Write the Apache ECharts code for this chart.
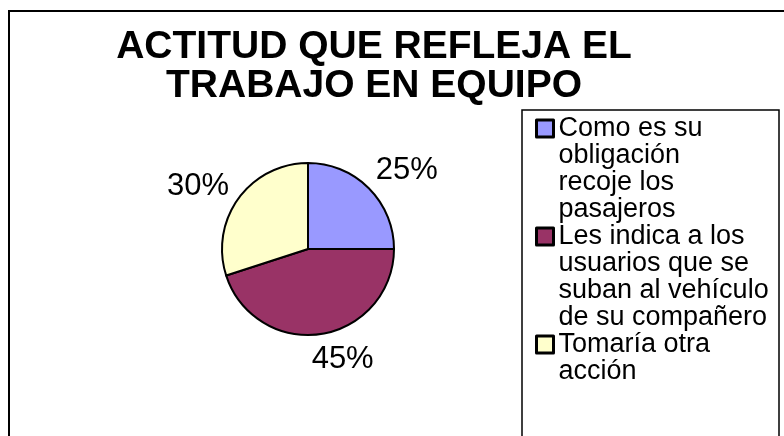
<!DOCTYPE html>
<html>
<head>
<meta charset="utf-8">
<script src="https://cdn.jsdelivr.net/npm/echarts@6/dist/echarts.min.js"></script>
<style>
    html, body { margin: 0; padding: 0; background: #fff; }
    #main { width: 784px; height: 436px; }
</style>
</head>
<body>
<div id="main"></div>
<script>
'use strict';

var titleText = 'ACTITUD QUE REFLEJA EL\nTRABAJO EN EQUIPO';
// categories, wrapped the way the legend shows them
var categories = [
    'Como es su\nobligación\nrecoje los\npasajeros',
    'Les indica a los\nusuarios que se\nsuban al vehículo\nde su compañero',
    'Tomaría otra\nacción'
];
var percents = [25, 45, 30];
var colors = ['#9999FF', '#993366', '#FFFFCC'];

var legendLineHeight = 27;
var legendBlockLines = 7;
// small nudges so the percent labels sit where the original put them
var labelNudge = [[-8, -8], [-17, 12], [7, -4]];

function drawChart() {
    var myChart = echarts.init(document.getElementById('main'));

    var pieData = categories.map(function(name, i) {
        return { name: name, value: percents[i], itemStyle: { color: colors[i] } };
    });

    var option = {
        backgroundColor: '#fff',
        animation: false,
        textStyle: { fontFamily: 'Liberation Sans, Arial, sans-serif' },
        title: {
            text: titleText,
            left: 369,
            top: 23,
            textAlign: 'center',
            textStyle: {
                fontSize: 39,
                fontWeight: 'bold',
                lineHeight: 39,
                color: '#000',
                fontFamily: 'Liberation Sans, Arial, sans-serif'
            }
        },
        graphic: [{
            // outer chart frame
            type: 'rect',
            shape: { x: 9, y: 11, width: 790, height: 440 },
            style: { fill: 'none', stroke: '#000', lineWidth: 2 },
            silent: true
        }, {
            // legend frame
            type: 'rect',
            shape: { x: 522, y: 110, width: 257, height: 340 },
            style: { fill: '#fff', stroke: '#000', lineWidth: 1.5 },
            silent: true,
            z: -1
        }],
        legend: {
            orient: 'vertical',
            left: 530,
            top: 29,
            height: 900,
            itemWidth: 17,
            itemHeight: 17,
            itemGap: -(legendBlockLines - 4) * legendLineHeight,
            icon: 'rect',
            itemStyle: { borderColor: '#000', borderWidth: 3 },
            data: categories,
            // pad each entry to the same block, first line level with the icon
            formatter: function(name) {
                var lines = name.split('\n');
                var above = (legendBlockLines - 1) / 2;
                var out = [];
                var i;
                for (i = 0; i < above; i++) out.push(' ');
                out = out.concat(lines);
                while (out.length < legendBlockLines) out.push(' ');
                return out.join('\n');
            },
            textStyle: {
                fontSize: 27,
                lineHeight: legendLineHeight,
                color: '#000',
                fontFamily: 'Liberation Sans, Arial, sans-serif'
            },
            selectedMode: false
        },
        series: [{
            type: 'pie',
            center: [308, 249],
            radius: 86,
            startAngle: 90,
            clockwise: true,
            avoidLabelOverlap: false,
            itemStyle: { borderColor: '#000', borderWidth: 2 },
            label: {
                show: true,
                position: 'outside',
                formatter: '{c}%',
                fontSize: 31,
                color: '#000',
                fontFamily: 'Liberation Sans, Arial, sans-serif'
            },
            labelLine: { show: false, length: 14, length2: 0 },
            labelLayout: function(params) {
                var n = labelNudge[params.dataIndex];
                return { dx: n[0], dy: n[1] };
            },
            emphasis: { disabled: true },
            data: pieData
        }]
    };
    myChart.setOption(option);
}

drawChart();
</script>
</body>
</html>
